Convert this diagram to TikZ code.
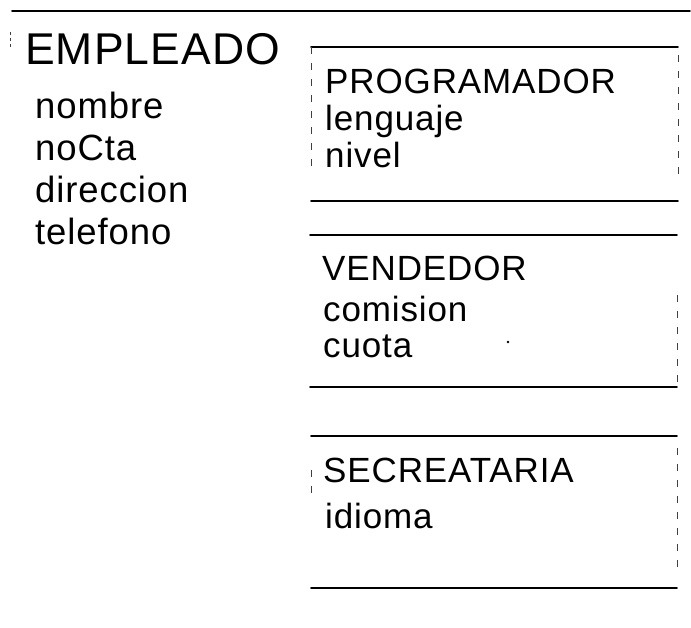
\documentclass[tikz,border=0pt]{standalone}
\usepackage{fontspec}
\setmainfont{Liberation Sans}[LetterSpace=2.5]
\begin{document}
\begin{tikzpicture}[x=1pt,y=-1pt,
  rule/.style={line width=1.6pt,line cap=round},
  side/.style={line width=1pt,black!75,dash pattern=on 7pt off 9pt},
  bigtxt/.style={anchor=base west,inner sep=0pt,font=\fontsize{44.5}{50}\selectfont},
  attr/.style={anchor=base west,inner sep=0pt,font=\fontsize{36.5}{42}\selectfont},
  boxtxt/.style={anchor=base west,inner sep=0pt,font=\fontsize{35}{40}\selectfont}]
\useasboundingbox (0,0) rectangle (691,627);
% top rule
\coordinate (tl) at (12,11);
\coordinate (tr) at (690,11);
\draw[rule] (tl) -- (tr);
\coordinate (m1) at (10,32);
\coordinate (m2) at (10,47);
\draw[line width=1pt,black!75,dash pattern=on 3pt off 3pt] (m1) -- (m2);
% EMPLEADO
\node[bigtxt] (emp) at (25,64) {EMPLEADO};
\node[attr] (a1) at (35,118) {nombre};
\node[attr] (a2) at (35,160) {noCta};
\node[attr] (a3) at (35,202) {direccion};
\node[attr] (a4) at (35,244) {telefono};
% box 1
\coordinate (b1tl) at (311,47);
\coordinate (b1tr) at (678,47);
\coordinate (b1bl) at (311,201);
\coordinate (b1br) at (678,201);
\draw[rule] (b1tl) -- (b1tr);
\draw[rule] (b1bl) -- (b1br);
\draw[side] (b1tl) -- ([yshift=31pt]b1bl);
\draw[side] ([yshift=-8pt]b1tr) -- ([yshift=26pt]b1br);
\node[boxtxt] (p0) at (325,93) {PROGRAMADOR};
\node[boxtxt] (p1) at (325,130) {lenguaje};
\node[boxtxt] (p2) at (325,167) {nivel};
% box 2
\coordinate (b2tl) at (310,235);
\coordinate (b2tr) at (677,235);
\coordinate (b2bl) at (310,387);
\coordinate (b2br) at (677,387);
\draw[rule] (b2tl) -- (b2tr);
\draw[rule] (b2bl) -- (b2br);
\draw[side] ([yshift=-60pt]b2tr) -- (b2br);
\node[boxtxt] (v0) at (322,280) {VENDEDOR};
\node[boxtxt] (v1) at (323,321) {comision};
\node[boxtxt] (v2) at (323,357) {cuota};
\coordinate (speck) at (508,342);
\fill (speck) circle (1.3);
% box 3
\coordinate (b3tl) at (311,436);
\coordinate (b3tr) at (677,436);
\coordinate (b3bl) at (311,588);
\coordinate (b3br) at (677,588);
\draw[rule] (b3tl) -- (b3tr);
\draw[rule] (b3bl) -- (b3br);
\draw[side] ([yshift=-34pt]b3tl) -- ([yshift=-64pt]b3tl);
\draw[side] ([yshift=-12pt]b3tr) -- ([yshift=14pt]b3br);
\node[boxtxt] (s0) at (323,482) {SECREATARIA};
\node[boxtxt] (s1) at (325,528) {idioma};
\end{tikzpicture}
\end{document}
